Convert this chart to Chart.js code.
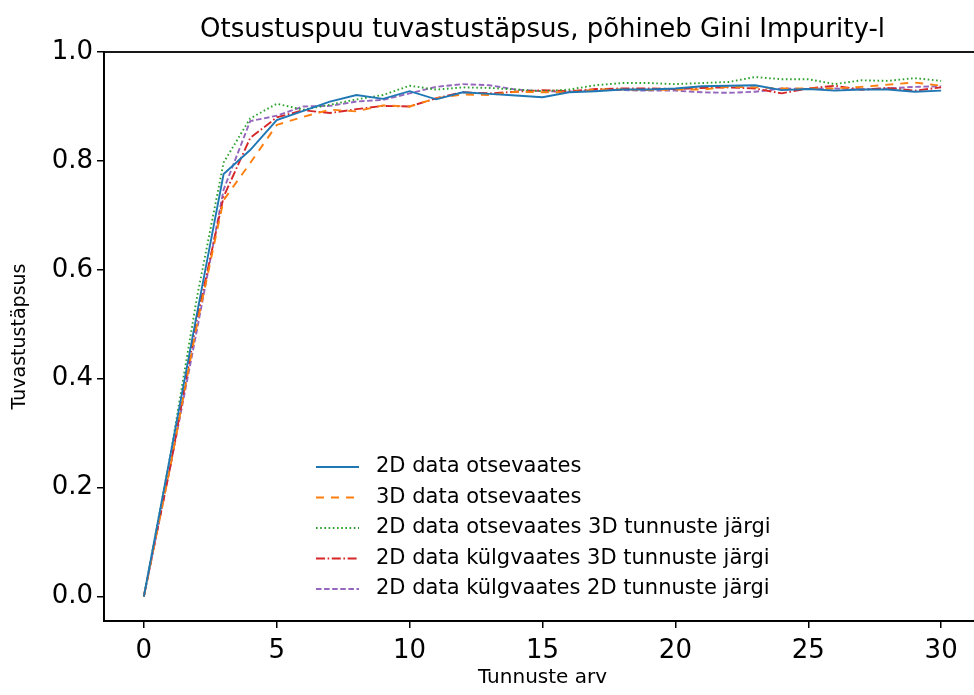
<!DOCTYPE html>
<html>
<head>
<meta charset="utf-8">
<script src="https://cdn.jsdelivr.net/npm/chart.js@4.4.1/dist/chart.umd.min.js"></script>
<style>
  html, body { margin: 0; padding: 0; background: #fff; overflow: hidden; }
  #wrap { width: 990px; height: 695px; }
</style>
</head>
<body>
<div id="wrap"><canvas id="c" width="990" height="695"></canvas></div>
<script>
const features = [0,1,2,3,4,5,6,7,8,9,10,11,12,13,14,15,16,17,18,19,20,21,22,23,24,25,26,27,28,29,30];

const seriesLabels = [
  "2D data otsevaates",
  "3D data otsevaates",
  "2D data otsevaates 3D tunnuste järgi",
  "2D data külgvaates 3D tunnuste järgi",
  "2D data külgvaates 2D tunnuste järgi"
];

const blue2DFront = [0, 0.26, 0.52, 0.776, 0.82, 0.875, 0.892, 0.909, 0.921, 0.914, 0.928, 0.913, 0.926, 0.923, 0.920, 0.917, 0.926, 0.928, 0.931, 0.931, 0.933, 0.937, 0.938, 0.939, 0.930, 0.932, 0.929, 0.931, 0.931, 0.927, 0.929];
const orange3DFront = [0, 0.24, 0.50, 0.728, 0.796, 0.866, 0.881, 0.894, 0.891, 0.902, 0.900, 0.915, 0.922, 0.921, 0.927, 0.926, 0.926, 0.931, 0.931, 0.930, 0.931, 0.931, 0.936, 0.935, 0.933, 0.933, 0.933, 0.936, 0.940, 0.944, 0.938];
const green2DFront3D = [0, 0.26, 0.55, 0.797, 0.878, 0.905, 0.894, 0.903, 0.913, 0.921, 0.938, 0.931, 0.935, 0.934, 0.931, 0.928, 0.931, 0.939, 0.943, 0.943, 0.941, 0.943, 0.945, 0.954, 0.950, 0.950, 0.941, 0.948, 0.947, 0.952, 0.947];
const red2DSide3D = [0, 0.24, 0.51, 0.734, 0.842, 0.880, 0.893, 0.888, 0.895, 0.901, 0.900, 0.915, 0.926, 0.924, 0.927, 0.930, 0.928, 0.932, 0.933, 0.933, 0.932, 0.934, 0.935, 0.933, 0.924, 0.933, 0.938, 0.931, 0.934, 0.929, 0.935];
const purple2DSide2D = [0, 0.24, 0.49, 0.747, 0.873, 0.883, 0.900, 0.901, 0.909, 0.912, 0.924, 0.936, 0.941, 0.939, 0.931, 0.928, 0.927, 0.930, 0.930, 0.929, 0.929, 0.926, 0.925, 0.927, 0.933, 0.932, 0.933, 0.931, 0.933, 0.936, 0.937];

const xTicks = [0, 5, 10, 15, 20, 25, 30];
const yTicks = [0.0, 0.2, 0.4, 0.6, 0.8, 1.0];

const titleText = "Otsustuspuu tuvastustäpsus, põhineb Gini Impurity-l";
const xLabel = "Tunnuste arv";
const yLabel = "Tuvastustäpsus";

const styles = [
  { color: "#1f77b4", dash: [] },
  { color: "#ff7f0e", dash: [8, 7] },
  { color: "#2ca02c", dash: [1.6, 2.6] },
  { color: "#d62728", dash: [9, 2.6, 1.6, 2.6] },
  { color: "#9467bd", dash: [5.5, 2.6] }
];
const allSeries = [blue2DFront, orange3DFront, green2DFront3D, red2DSide3D, purple2DSide2D];

const datasets = allSeries.map((vals, i) => ({
  label: seriesLabels[i],
  data: vals.map((v, k) => ({ x: features[k], y: v })),
  borderColor: styles[i].color,
  backgroundColor: styles[i].color,
  borderDash: styles[i].dash,
  borderWidth: 1.9,
  pointRadius: 0,
  fill: false,
  tension: 0
}));

const FONT = "'DejaVu Sans', sans-serif";

const framePlugin = {
  id: "frame",
  afterDraw(chart) {
    const a = chart.chartArea;
    const ctx = chart.ctx;
    ctx.save();
    ctx.strokeStyle = "#000";
    ctx.lineWidth = 1.8;
    ctx.setLineDash([]);
    ctx.strokeRect(a.left, a.top, a.right - a.left, a.bottom - a.top);
    ctx.restore();
  }
};

const legendPlugin = {
  id: "innerLegend",
  afterDraw(chart) {
    const a = chart.chartArea;
    const ctx = chart.ctx;
    const x0 = a.left + 212;
    const y0 = a.top + 415;
    const rowH = 30.5;
    ctx.save();
    ctx.font = "21px " + FONT;
    ctx.textBaseline = "middle";
    ctx.textAlign = "left";
    chart.data.datasets.forEach((ds, i) => {
      const y = y0 + i * rowH;
      ctx.beginPath();
      ctx.strokeStyle = ds.borderColor;
      ctx.lineWidth = ds.borderWidth;
      ctx.setLineDash(ds.borderDash);
      ctx.moveTo(x0, y);
      ctx.lineTo(x0 + 43, y);
      ctx.stroke();
      ctx.setLineDash([]);
      ctx.fillStyle = "#000";
      ctx.fillText(ds.label, x0 + 60, y);
    });
    ctx.restore();
  }
};

new Chart(document.getElementById("c"), {
  type: "line",
  data: { datasets },
  options: {
    responsive: false,
    animation: false,
    layout: { padding: { left: 0, right: 9, top: 0, bottom: 0 } },
    plugins: {
      legend: { display: false },
      tooltip: { enabled: false },
      title: {
        display: true,
        text: titleText,
        fullSize: false,
        color: "#000",
        font: { family: FONT, size: 26, weight: "normal" },
        padding: { top: 15, bottom: 5.8 }
      }
    },
    scales: {
      x: {
        type: "linear",
        min: -1.5,
        max: 31.5,
        afterBuildTicks(scale) { scale.ticks = xTicks.map(v => ({ value: v })); },
        afterFit(scale) { scale.height = 74; },
        ticks: {
          color: "#000",
          font: { family: FONT, size: 26 },
          padding: 8,
          maxRotation: 0,
          autoSkip: false,
          callback: v => String(v)
        },
        grid: { drawOnChartArea: false, drawTicks: true, tickLength: 7, color: "#000", lineWidth: 1.5 },
        border: { display: true, color: "#000", width: 1.8 },
        title: {
          display: true,
          text: xLabel,
          color: "#000",
          font: { family: FONT, size: 20, lineHeight: 1.2 },
          padding: { top: 0, bottom: 5 }
        }
      },
      y: {
        type: "linear",
        min: -0.045,
        max: 1.0,
        afterBuildTicks(scale) { scale.ticks = yTicks.map(v => ({ value: v })); },
        afterFit(scale) { scale.width = 104; },
        ticks: {
          color: "#000",
          font: { family: FONT, size: 26 },
          padding: 4,
          autoSkip: false,
          callback: v => Number(v).toFixed(1)
        },
        grid: { drawOnChartArea: false, drawTicks: true, tickLength: 7, color: "#000", lineWidth: 1.5 },
        border: { display: true, color: "#000", width: 1.8 },
        title: {
          display: true,
          text: yLabel,
          color: "#000",
          font: { family: FONT, size: 19 },
          padding: { top: 9, bottom: 0 }
        }
      }
    }
  },
  plugins: [framePlugin, legendPlugin]
});
</script>
</body>
</html>
